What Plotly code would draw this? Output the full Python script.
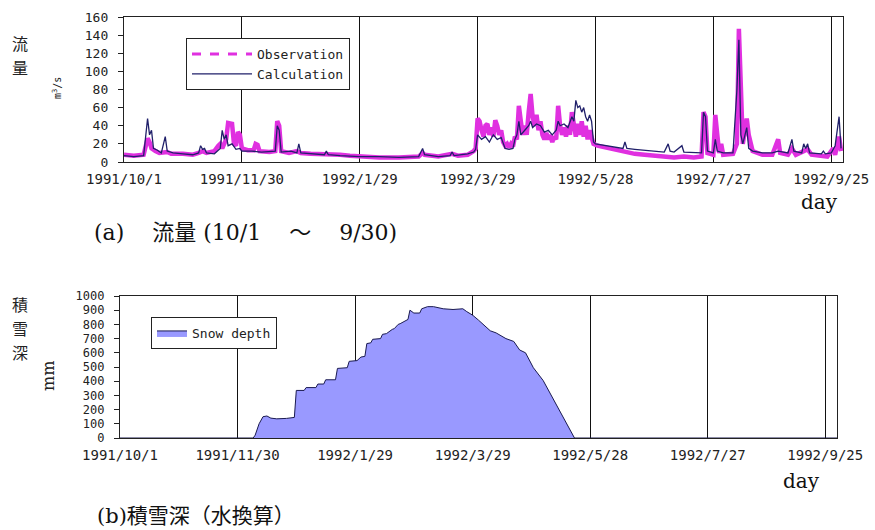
import plotly.graph_objects as go
import pandas as pd

START = pd.Timestamp("1991-10-01")

# Flow (m3/s): day offset from 1991/10/1 and value
obs_day = [0, 5, 10, 11, 12, 13, 14, 16, 18, 22, 24, 30, 35, 38, 40, 42, 46, 48, 49, 50, 52, 53, 55, 56, 57, 58, 59, 60,
           63, 66, 67, 68, 69, 74, 77, 78, 79, 80, 84, 88, 90, 95, 100, 105, 110, 115, 120, 130, 140, 150, 152, 153, 160,
           167, 170, 175, 178, 179,
           180, 181, 182, 183, 184, 185, 186, 187, 188, 189, 190, 191, 192, 193, 194, 195, 196, 197, 198, 199,
           200, 201, 202, 203, 204, 205, 206, 207, 208, 209, 210, 211, 212, 213, 214, 215, 216, 217, 218, 219,
           220, 221, 222, 223, 224, 225, 226, 227, 228, 229, 230, 231, 232, 233, 234, 235, 236, 237, 238, 239,
           241, 245, 250, 255,
           260, 265, 270, 275, 280, 285, 290, 294, 295, 296, 297, 300, 301, 302, 303, 304, 305, 310, 312, 313, 314, 315,
           317, 318, 320, 325, 330, 333, 334, 338, 340, 342, 346, 348, 350, 355, 358, 361, 362, 364, 365]
obs_val = [8, 7, 8, 20, 26, 22, 15, 12, 10, 11, 9, 9, 8, 10, 12, 10, 12, 18, 20, 15, 25, 43, 42, 20, 18, 33, 30, 15,
           13, 13, 20, 19, 12, 11, 12, 45, 40, 12, 10, 12, 10, 9, 9, 8, 8, 7, 6, 5, 5, 6, 10, 8, 6,
           9, 7, 8, 12, 15,
           48, 45, 35, 28, 40, 42, 30, 38, 28, 46, 40, 30, 35, 22, 18, 20, 16, 20, 17, 28,
           25, 62, 45, 30, 40, 30, 55, 75, 50, 40, 52, 35, 45, 30, 25, 32, 25, 30, 22, 28,
           25, 62, 40, 30, 38, 28, 40, 30, 55, 40, 28, 42, 30, 45, 28, 40, 25, 35, 25, 20,
           18, 16, 14, 12,
           9, 8, 7, 6, 5, 6, 5, 6, 55, 50, 10, 8, 52, 30, 10, 20, 8, 9, 20, 147, 60, 20,
           48, 30, 12, 8, 8, 25, 10, 8, 15, 8, 12, 14, 8, 7, 6, 15, 8, 28, 12]

calc_day = [0, 5, 10, 11, 12, 13, 14, 15, 17, 19, 21, 22, 25, 30, 35, 38, 39, 40, 41, 42, 46, 49, 50, 51, 52, 53, 55, 57,
            59, 60, 65, 70, 77, 78, 79, 80, 85, 88, 89, 90, 95, 102, 103, 104, 110, 120, 130, 140, 150, 152, 153, 160,
            166, 167, 168, 175, 178, 179, 180, 182, 184, 186, 188, 190, 192, 194, 196, 198, 199, 200, 201, 202, 204, 206,
            207, 208, 210, 212, 214, 216, 218, 220, 221, 222, 224, 226, 228, 229, 230, 231, 232, 233, 234, 235, 236, 237,
            238, 239, 240, 245, 250, 254, 255, 256, 260, 265, 270, 275, 277, 278, 280, 284, 285, 290, 294, 295, 296, 297,
            300, 301, 302, 305, 310, 312, 313, 314, 315, 317, 318, 320, 325, 330, 333, 338, 340, 341, 345, 346, 347, 348,
            349, 355, 356, 357, 360, 362, 364, 365]
calc_val = [7, 6, 7, 30, 48, 30, 35, 15, 13, 10, 28, 12, 10, 9, 8, 10, 18, 14, 15, 10, 9, 15, 35, 25, 30, 18, 20, 14,
            15, 12, 12, 11, 12, 40, 35, 11, 12, 10, 20, 10, 9, 8, 12, 8, 7, 6, 6, 5, 6, 15, 8, 6,
            7, 11, 7, 9, 11, 14, 30, 25, 28, 22, 30, 25, 27, 15, 14, 15, 25, 30, 45, 30, 35, 40,
            45, 38, 42, 40, 33, 35, 30, 35, 45, 40, 42, 38, 50, 45, 68, 60, 62, 55, 60, 50, 45, 52,
            45, 22, 20, 18, 16, 15, 22, 15, 14, 13, 12, 11, 20, 12, 11, 18, 11, 10, 10, 55, 50, 12,
            10, 25, 12, 10, 10, 80, 135, 30, 20, 38, 15, 12, 10, 10, 12, 10, 25, 12, 10, 20, 15, 20,
            10, 9, 12, 9, 10, 18, 50, 15]

# Snow depth (mm, water equivalent)
snow_day = [0, 68, 69, 71, 73, 75, 77, 80, 85, 88, 89, 90, 94, 95, 100, 101, 104, 105, 110, 111, 116, 117, 121, 123,
            125, 126, 128, 129, 133, 134, 136, 139, 140, 142, 143, 147, 148, 150, 153, 154, 157, 160, 165, 170, 175,
            177, 180, 183, 185, 189, 192, 197, 201, 204, 207, 211, 216, 219, 223, 226, 230, 232, 366]
snow_val = [0, 0, 20, 100, 150, 155, 140, 135, 138, 140, 145, 335, 335, 355, 355, 380, 380, 410, 410, 490, 495, 540,
            545, 570, 575, 665, 670, 695, 700, 730, 735, 765, 770, 800, 805, 835, 900, 880, 880, 910, 925, 925, 910,
            905, 910, 890, 865, 830, 805, 755, 740, 700, 680, 620, 600, 495, 405, 330, 220, 150, 55, 0, 0]

tick_dates = ["1991-10-01", "1991-11-30", "1992-01-29", "1992-03-29", "1992-05-28", "1992-07-27", "1992-09-25"]
tick_labels = ["1991/10/1", "1991/11/30", "1992/1/29", "1992/3/29", "1992/5/28", "1992/7/27", "1992/9/25"]
flow_ticks = list(range(0, 161, 20))
snow_ticks = list(range(0, 1001, 100))


def to_dates(days):
    return [START + pd.Timedelta(days=d) for d in days]


W, H = 875, 530


def px(x):
    return x / W


def py(y):
    return 1 - y / H


OBS_COLOR = "#e030e0"
CALC_COLOR = "#20206a"
MONO = "DejaVu Sans Mono, Liberation Mono, monospace"
SERIF = "DejaVu Serif, Noto Sans CJK JP, serif"
CJK = "Noto Sans CJK JP, sans-serif"

fig = go.Figure()

fig.add_trace(go.Scatter(x=to_dates(obs_day), y=obs_val, mode="lines", name="Observation",
                         line=dict(color=OBS_COLOR, width=4.5), showlegend=False,
                         xaxis="x", yaxis="y"))
fig.add_trace(go.Scatter(x=[None], y=[None], mode="lines", name="Observation",
                         line=dict(color=OBS_COLOR, width=3, dash="dash"), legend="legend",
                         xaxis="x", yaxis="y"))
fig.add_trace(go.Scatter(x=to_dates(calc_day), y=calc_val, mode="lines", name="Calculation",
                         line=dict(color=CALC_COLOR, width=1.3), legend="legend",
                         xaxis="x", yaxis="y"))
fig.add_trace(go.Scatter(x=to_dates(snow_day), y=snow_val, mode="lines", name="Snow depth",
                         fill="tozeroy", fillcolor="#9999ff",
                         line=dict(color="#1a1a50", width=1), legend="legend2",
                         xaxis="x2", yaxis="y2"))

xrange_ = ["1991-10-01", "1992-10-01"]
xcommon = dict(type="date", range=xrange_, tickmode="array", tickvals=tick_dates, ticktext=tick_labels,
               showgrid=True, gridcolor="#111111", gridwidth=1, showline=True, linecolor="#222222",
               linewidth=1.3, mirror=True, ticks="", tickfont=dict(family=MONO, size=14, color="#222222"),
               zeroline=False, automargin=False, ticklabelstandoff=4)
ycommon = dict(showgrid=False, showline=True, linecolor="#222222", linewidth=1.3, mirror=True,
               ticks="outside", ticklen=5, tickcolor="#222222", zeroline=False, automargin=False,
               ticklabelstandoff=7)

fig.update_layout(
    width=W, height=H, autosize=False,
    margin=dict(l=0, r=0, t=0, b=0, autoexpand=False),
    paper_bgcolor="white", plot_bgcolor="white",
    xaxis=dict(domain=[px(124), px(843)], anchor="y", **xcommon),
    yaxis=dict(domain=[py(162), py(17)], anchor="x", range=[0, 160], tickvals=flow_ticks,
               tickfont=dict(family=MONO, size=13, color="#222222"), **ycommon),
    xaxis2=dict(domain=[px(120), px(837)], anchor="y2", **xcommon),
    yaxis2=dict(domain=[py(438), py(296)], anchor="x2", range=[0, 1000], tickvals=snow_ticks,
                tickfont=dict(family=MONO, size=12, color="#222222"), **ycommon),
    legend=dict(x=px(186), y=py(38), xanchor="left", yanchor="top", bgcolor="white",
                bordercolor="#222222", borderwidth=1, font=dict(family=MONO, size=13, color="#222222"),
                itemwidth=60, tracegroupgap=0),
    legend2=dict(x=px(151), y=py(317), xanchor="left", yanchor="top", bgcolor="white",
                 bordercolor="#222222", borderwidth=1, font=dict(family=MONO, size=13, color="#222222"),
                 itemwidth=30),
    showlegend=True,
)

ann = [
    dict(text="流", x=px(20), y=py(43), font=dict(family=CJK, size=16, color="#222222")),
    dict(text="量", x=px(20), y=py(67), font=dict(family=CJK, size=16, color="#222222")),
    dict(text="m<sup>3</sup>/s", x=px(57), y=py(88), textangle=-90, font=dict(family=MONO, size=10, color="#222222")),
    dict(text="day", x=px(819), y=py(202), font=dict(family=SERIF, size=20, color="#111111")),
    dict(text="(a)    流量 (10/1    ～    9/30)", x=px(92), y=py(232), xanchor="left",
         font=dict(family=SERIF, size=22, color="#111111")),
    dict(text="積", x=px(20), y=py(304), font=dict(family=CJK, size=16, color="#222222")),
    dict(text="雪", x=px(20), y=py(328), font=dict(family=CJK, size=16, color="#222222")),
    dict(text="深", x=px(20), y=py(352), font=dict(family=CJK, size=16, color="#222222")),
    dict(text="mm", x=px(48), y=py(376), textangle=-90, font=dict(family=SERIF, size=16, color="#222222")),
    dict(text="day", x=px(801), y=py(481), font=dict(family=SERIF, size=20, color="#111111")),
    dict(text="(b)積雪深（水換算）", x=px(95), y=py(516), xanchor="left",
         font=dict(family=SERIF, size=21, color="#111111")),
]
for a in ann:
    a.setdefault("xanchor", "center")
    a.update(xref="paper", yref="paper", showarrow=False, yanchor="middle")
    fig.add_annotation(**a)

fig.write_html("out.html", config={"displayModeBar": False},
               post_script="document.body.style.margin='0px';document.body.style.overflow='hidden';")
